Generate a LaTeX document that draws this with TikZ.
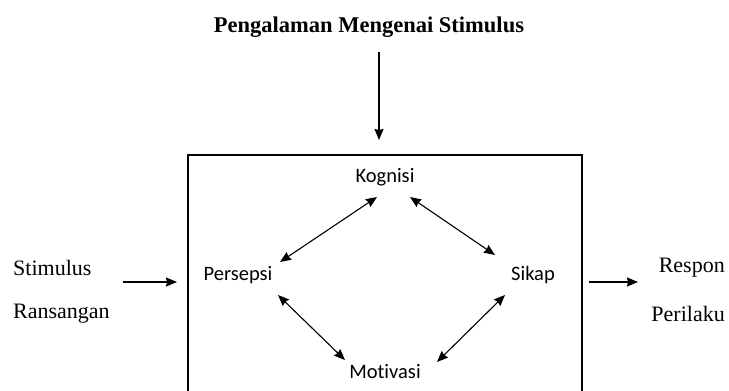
\documentclass[tikz,border=0pt]{standalone}
\usepackage{fontspec}
\setmainfont{Liberation Serif}
\newfontfamily\calib[Ligatures={NoCommon,NoRare,NoContextual}]{Carlito}
\usetikzlibrary{arrows.meta}
\begin{document}
\begin{tikzpicture}[x=1pt,y=-1pt,
  serif/.style={font=\fontsize{22}{26}\selectfont, inner sep=0pt},
  inner/.style={font=\calib\fontsize{20.5}{24}\selectfont, inner sep=2pt},
  arr/.style={line width=1.1pt, -{Stealth[length=11pt,width=9pt,inset=1pt]}},
  darr/.style={line width=1.1pt, {Stealth[length=11pt,width=9pt,inset=1pt]}-{Stealth[length=11pt,width=9pt,inset=1pt]}}]
\useasboundingbox (0,0) rectangle (729,391);
\clip (0,0) rectangle (729,391);
\node[serif, font=\bfseries\fontsize{22.5}{26}\selectfont] (title) at (369,27) {Pengalaman Mengenai Stimulus};
\draw[line width=1.3pt] (188,155) rectangle (582,420);
\coordinate (vtop) at (379,52);
\coordinate (vbot) at (379,140);
\draw[arr] (vtop) -- (vbot);
\node[inner] (kog) at (385,177) {Kognisi};
\node[inner] (per) at (238,275) {Persepsi};
\node[inner] (sik) at (533,275) {Sikap};
\node[inner] (mot) at (385,372) {Motivasi};
\node[serif, anchor=west] (stim) at (13,268) {Stimulus};
\node[serif, anchor=west] (rans) at (13,314) {Ransangan};
\node[serif, anchor=east] (resp) at (725,268) {Respon};
\node[serif, anchor=east] (peri) at (725,314) {Perilaku};
\coordinate (la) at (123,282);
\coordinate (lb) at (177,282);
\coordinate (ra) at (589,282);
\coordinate (rb) at (638,282);
\draw[arr] (la) -- (lb);
\draw[arr] (ra) -- (rb);
\draw[darr] (377,197) -- (280,262);
\draw[darr] (410,197) -- (495,255);
\draw[darr] (278,295) -- (345,360);
\draw[darr] (505,295) -- (437,362);
\end{tikzpicture}
\end{document}
